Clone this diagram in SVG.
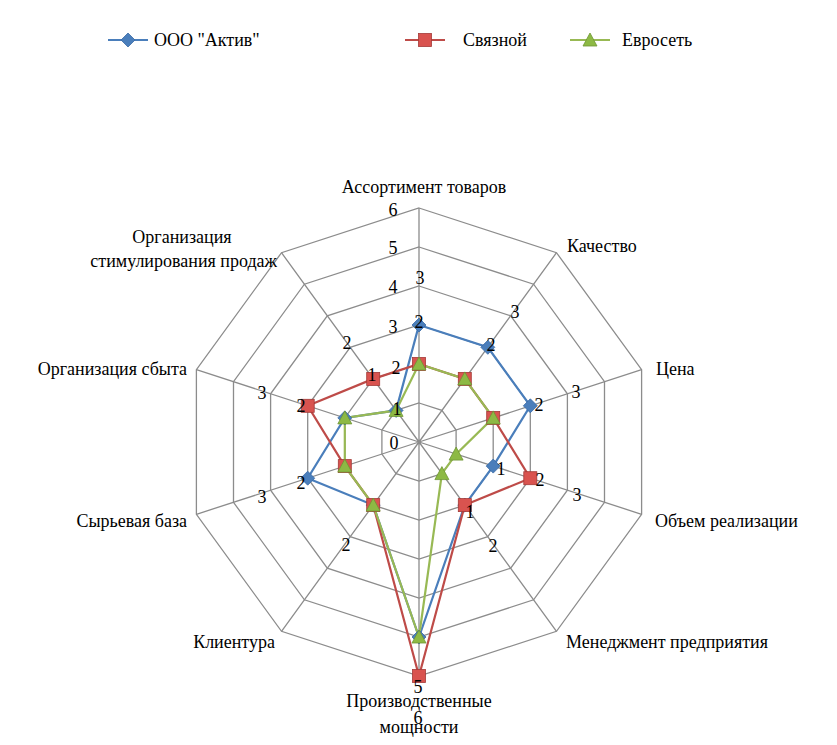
<svg xmlns="http://www.w3.org/2000/svg" xmlns:xlink="http://www.w3.org/1999/xlink" width="837" height="745" viewBox="0 0 837 745" font-family="'Liberation Serif', 'DejaVu Serif', serif">
<style>
text{font-family:"Liberation Serif","DejaVu Serif",serif;font-size:18px;fill:#000}
.g{fill:none;stroke:#8c8c8c;stroke-width:1.3}
.b{fill:none;stroke:#4A7EBB;stroke-width:2.2}
.r{fill:none;stroke:#BE4B48;stroke-width:2.2}
.v{fill:none;stroke:#98B954;stroke-width:2.2}
.m{text-anchor:middle}
.e{text-anchor:end}
</style>
<defs>
<path id="dia" d="M0,-7 L7,0 L0,7 L-7,0Z" fill="#4A7EBB" stroke="#3a6aa5" stroke-width="0.8"/>
<rect id="sq" x="-6.5" y="-6.5" width="13" height="13" fill="#D9534F" stroke="#a33a37" stroke-width="0.8"/>
<path id="tri" d="M0,-7 L7,6 L-7,6Z" fill="#8DB944" stroke="#6f9634" stroke-width="0.8"/>
</defs>
<rect width="837" height="745" fill="#fff"/>
<g id="legend">
<line x1="108" y1="40" x2="148" y2="40" class="b"/><use xlink:href="#dia" x="128" y="40"/>
<text x="154" y="46">ООО "Актив"</text>
<line x1="405" y1="40" x2="445" y2="40" class="r"/><use xlink:href="#sq" x="425" y="40"/>
<text x="463" y="46">Связной</text>
<line x1="570" y1="40" x2="610" y2="40" class="v"/><use xlink:href="#tri" x="590" y="40"/>
<text x="622" y="46">Евросеть</text>
</g>
<g id="grid">
<polygon class="g" points="419,403 441.9,410.4 456.1,430 456.1,454.1 441.9,473.6 419,481 396.1,473.6 381.9,454.1 381.9,430 396.1,410.4"/>
<polygon class="g" points="419,364 464.8,378.9 493.2,417.9 493.2,466.1 464.8,505.1 419,520 373.2,505.1 344.8,466.1 344.8,417.9 373.2,378.9"/>
<polygon class="g" points="419,325 487.8,347.3 530.3,405.8 530.3,478.2 487.8,536.7 419,559 350.2,536.7 307.7,478.2 307.7,405.8 350.2,347.3"/>
<polygon class="g" points="419,286 510.7,315.8 567.4,393.8 567.4,490.2 510.7,568.2 419,598 327.3,568.2 270.6,490.2 270.6,393.8 327.3,315.8"/>
<polygon class="g" points="419,247 533.6,284.2 604.5,381.7 604.5,502.3 533.6,599.8 419,637 304.4,599.8 233.5,502.3 233.5,381.7 304.4,284.2"/>
<polygon class="g" points="419,208 556.5,252.7 641.6,369.7 641.6,514.3 556.5,631.3 419,676 281.5,631.3 196.4,514.3 196.4,369.7 281.5,252.7"/>
<path class="g" d="M419,442L419,208M419,442L556.5,252.7M419,442L641.6,369.7M419,442L641.6,514.3M419,442L556.5,631.3M419,442L419,676M419,442L281.5,631.3M419,442L196.4,514.3M419,442L196.4,369.7M419,442L281.5,252.7"/>
</g>
<g id="connectors">
<polygon class="b" points="419,325 487.8,347.3 530.3,405.8 493.2,466.1 464.8,505.1 419,637 373.2,505.1 307.7,478.2 344.8,417.9 396.1,410.4"/>
<polygon class="r" points="419,364 464.8,378.9 493.2,417.9 530.3,478.2 464.8,505.1 419,676 373.2,505.1 344.8,466.1 307.7,405.8 373.2,378.9"/>
<polygon class="v" points="419,364 464.8,378.9 493.2,417.9 456.1,454.1 441.9,473.6 419,637 373.2,505.1 344.8,466.1 344.8,417.9 396.1,410.4"/>
</g>
<g id="markers-blue">
<use xlink:href="#dia" x="419" y="325"/><use xlink:href="#dia" x="487.8" y="347.3"/><use xlink:href="#dia" x="530.3" y="405.8"/><use xlink:href="#dia" x="493.2" y="466.1"/><use xlink:href="#dia" x="464.8" y="505.1"/><use xlink:href="#dia" x="419" y="637"/><use xlink:href="#dia" x="373.2" y="505.1"/><use xlink:href="#dia" x="307.7" y="478.2"/><use xlink:href="#dia" x="344.8" y="417.9"/><use xlink:href="#dia" x="396.1" y="410.4"/>
</g>
<g id="markers-red">
<use xlink:href="#sq" x="419" y="364"/><use xlink:href="#sq" x="464.8" y="378.9"/><use xlink:href="#sq" x="493.2" y="417.9"/><use xlink:href="#sq" x="530.3" y="478.2"/><use xlink:href="#sq" x="464.8" y="505.1"/><use xlink:href="#sq" x="419" y="676"/><use xlink:href="#sq" x="373.2" y="505.1"/><use xlink:href="#sq" x="344.8" y="466.1"/><use xlink:href="#sq" x="307.7" y="405.8"/><use xlink:href="#sq" x="373.2" y="378.9"/>
</g>
<g id="markers-green">
<use xlink:href="#tri" x="419" y="364"/><use xlink:href="#tri" x="464.8" y="378.9"/><use xlink:href="#tri" x="493.2" y="417.9"/><use xlink:href="#tri" x="456.1" y="454.1"/><use xlink:href="#tri" x="441.9" y="473.6"/><use xlink:href="#tri" x="419" y="637"/><use xlink:href="#tri" x="373.2" y="505.1"/><use xlink:href="#tri" x="344.8" y="466.1"/><use xlink:href="#tri" x="344.8" y="417.9"/><use xlink:href="#tri" x="396.1" y="410.4"/>
</g>
<g id="scale" class="m">
<text x="394" y="449">0</text><text x="396" y="374">2</text><text x="393" y="333">3</text><text x="393" y="293">4</text><text x="393" y="254">5</text><text x="393" y="216">6</text>
<text x="420" y="284">3</text><text x="515" y="318">3</text><text x="576" y="398">3</text><text x="577" y="501">3</text><text x="493" y="552">2</text>
<text x="418" y="693">5</text><text x="418" y="724">6</text><text x="346" y="551">2</text><text x="262" y="503">3</text><text x="262" y="399">3</text><text x="347" y="349">2</text>
</g>
<g id="data-labels" class="m">
<text x="419" y="328">2</text><text x="491" y="351">2</text><text x="539" y="411">2</text><text x="501" y="475">1</text><text x="540" y="486">2</text><text x="470" y="518">1</text>
<text x="301" y="489">2</text><text x="301" y="412">2</text><text x="372" y="381">1</text><text x="397" y="415">1</text>
</g>
<g id="axis-labels">
<text x="424" y="193" class="m">Ассортимент товаров</text>
<text x="567" y="252">Качество</text>
<text x="656" y="375">Цена</text>
<text x="655" y="527">Объем реализации</text>
<text x="566" y="648">Менеджмент предприятия</text>
<text x="419" y="707" class="m">Производственные</text>
<text x="419" y="733" class="m">мощности</text>
<text x="275" y="648" class="e">Клиентура</text>
<text x="187" y="375" class="e">Организация сбыта</text>
<text x="187" y="527" class="e">Сырьевая база</text>
<text x="182" y="243" class="m">Организация</text>
<text x="277" y="267" class="e">стимулирования продаж</text>
</g>
</svg>
